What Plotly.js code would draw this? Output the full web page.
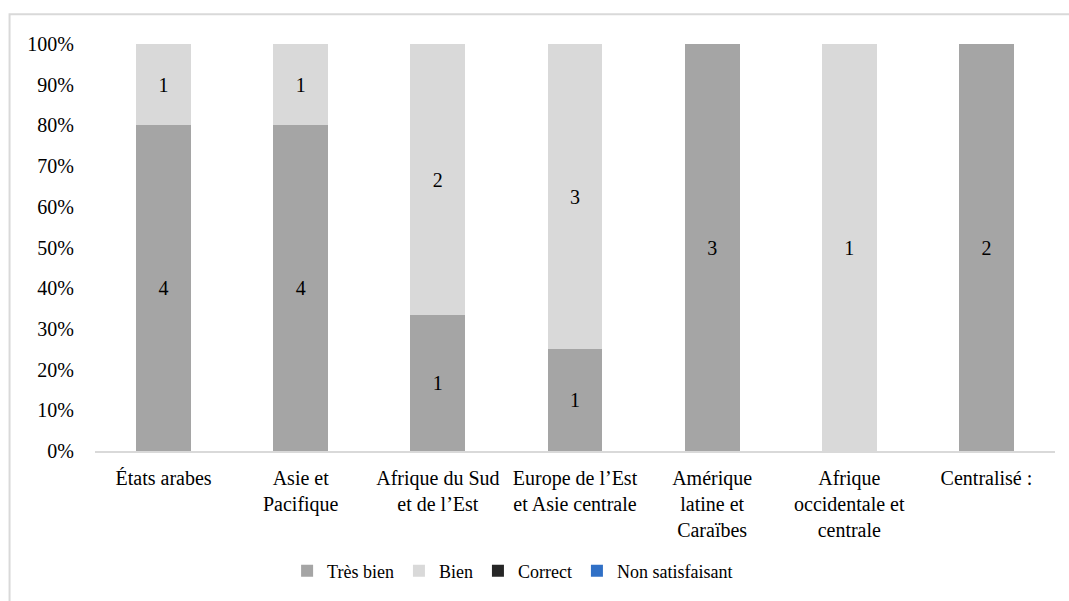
<!DOCTYPE html>
<html>
<head>
<meta charset="utf-8">
<script src="https://cdn.plot.ly/plotly-3.0.1.min.js"></script>
<style>
html,body{margin:0;padding:0;background:#fff;}
#chart{width:1069px;height:601px;}
svg text{font-family:'Liberation Serif','Times New Roman',serif !important;}
</style>
</head>
<body>
<div id="chart"></div>
<script>
const categories = ["États arabes", "Asie et<br>Pacifique", "Afrique du Sud<br>et de l’Est", "Europe de l’Est<br>et Asie centrale", "Amérique<br>latine et<br>Caraïbes", "Afrique<br>occidentale et<br>centrale", "Centralisé :"];
const tresBien = [4, 4, 1, 1, 3, 0, 2];
const bien = [1, 1, 2, 3, 0, 1, 0];
const correct = [0, 0, 0, 0, 0, 0, 0];
const nonSatisfaisant = [0, 0, 0, 0, 0, 0, 0];
const seriesNames = ["Très bien", "Bien", "Correct", "Non satisfaisant"];
const seriesColors = ["#a5a5a5", "#d9d9d9", "#262626", "#3070c6"];
const yTicks = [0, 10, 20, 30, 40, 50, 60, 70, 80, 90, 100];

const allSeries = [tresBien, bien, correct, nonSatisfaisant];
const traces = allSeries.map((vals, i) => ({
  type: 'bar',
  name: seriesNames[i],
  x: categories,
  y: vals,
  text: vals.map(v => v > 0 ? String(v) : ''),
  textposition: 'inside',
  insidetextanchor: 'middle',
  textangle: 0,
  textfont: {family: 'Liberation Serif', size: 20, color: '#000'},
  marker: {color: seriesColors[i]},
  hoverinfo: 'skip'
}));

const layout = {
  width: 1069, height: 601,
  margin: {l: 95, r: 14, t: 44, b: 147},
  paper_bgcolor: '#fff', plot_bgcolor: '#fff',
  barmode: 'stack', barnorm: 'percent', bargap: 0.6,
  font: {family: 'Liberation Serif', size: 20, color: '#000'},
  showlegend: true,
  legend: {orientation: 'h', x: 0.435, xanchor: 'center', y: -0.295, yanchor: 'middle',
           font: {family: 'Liberation Serif', size: 18, color: '#000'}, traceorder: 'normal', itemwidth: 30},
  xaxis: {showgrid: false, showline: true, linecolor: '#d9d9d9', linewidth: 2, ticks: '',
          ticklabelstandoff: 8,
          tickfont: {family: 'Liberation Serif', size: 20, color: '#000'}, fixedrange: true, automargin: false},
  yaxis: {range: [0, 100], tickvals: yTicks, ticktext: yTicks.map(v => v + '%'), showgrid: false,
          zeroline: false, showline: false, ticks: 'outside', ticklen: 16, tickcolor: 'rgba(0,0,0,0)',
          tickfont: {family: 'Liberation Serif', size: 20, color: '#000'}, fixedrange: true, automargin: false},
  shapes: [{type: 'rect', xref: 'paper', yref: 'paper', x0: -0.089, x1: 1.03, y0: -0.5, y1: 1.073,
            line: {color: '#d9d9d9', width: 2}, fillcolor: 'rgba(0,0,0,0)', layer: 'below'}]
};

Plotly.newPlot('chart', traces, layout, {displayModeBar: false, staticPlot: true});
</script>
</body>
</html>
